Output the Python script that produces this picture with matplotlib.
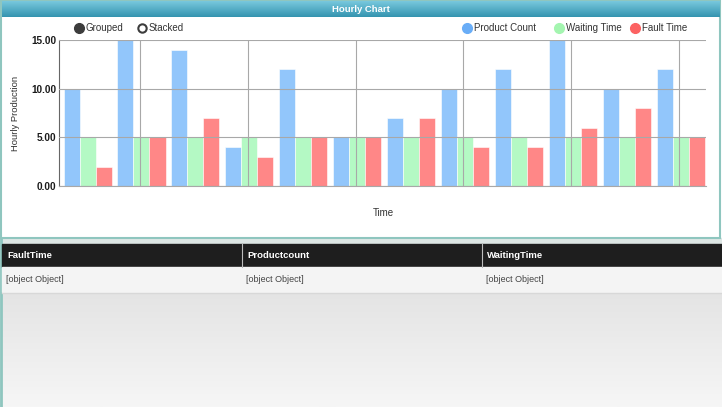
import numpy as np
import matplotlib.pyplot as plt

plt.rcParams['font.family'] = ['Liberation Sans', 'DejaVu Sans']

# data
hours = [0, 1, 2, 3, 4, 5, 6, 7, 8, 9, 10, 11]
product_count = [10, 15, 14, 4, 12, 5, 7, 10, 12, 15, 10, 12]
waiting_time = [5, 5, 5, 5, 5, 5, 5, 5, 5, 5, 5, 5]
fault_time = [2, 5, 7, 3, 5, 5, 7, 4, 4, 6, 8, 5]
series_names = ['Product Count', 'Waiting Time', 'Fault Time']
bar_colors = ['#92c6fb', '#b4f9c4', '#ff8787']
dot_colors = ['#69adf7', '#a4f5b0', '#fc6262']
y_ticks = [0, 5, 10, 15]
table_cols = ['FaultTime', 'Productcount', 'WaitingTime']
table_row = ['[object Object]', '[object Object]', '[object Object]']

W, H = 722, 407
fig = plt.figure(figsize=(W / 100, H / 100), dpi=100)

# background drawn in pixel coordinates
bg = fig.add_axes([0, 0, 1, 1])
bg.set_xlim(0, W)
bg.set_ylim(H, 0)
bg.axis('off')

# lower panel gradient + separator strip
bg.add_patch(plt.Rectangle((0, 238), W, H - 238, color='#dde6e4', zorder=0))
grad = np.linspace(0, 1, 100)[:, None]
lo = np.array([228, 228, 228]) / 255
hi = np.array([246, 246, 246]) / 255
img = lo + (hi - lo) * grad[:, :, None]
bg.imshow(img, extent=[2, W, H, 292], aspect='auto', zorder=1)
bg.plot([1, 1], [238, H], color='#8fc6bf', lw=2, zorder=2)

# table header and row
bg.add_patch(plt.Rectangle((2, 244), W - 2, 23, color='#1e1e1e', zorder=2))
bg.add_patch(plt.Rectangle((2, 267), W - 2, 25, color='#f4f4f4', zorder=2))
bg.plot([2, W], [292.5, 292.5], color='#d8d8d8', lw=1, zorder=3)
col_x = [2, 242, 482]
for i, name in enumerate(table_cols):
    if i > 0:
        bg.plot([col_x[i], col_x[i]], [244, 267], color='#bdbdbd', lw=0.8, zorder=3)
    bg.text(col_x[i] + 5, 256, name, color='white', fontsize=6.8,
            fontweight='bold', va='center', ha='left', zorder=4)
    bg.text(col_x[i] + 4, 280, table_row[i], color='#444444', fontsize=6.5,
            va='center', ha='left', zorder=4)

# chart panel
bg.add_patch(plt.Rectangle((1, 1), W - 3, 237, facecolor='white',
                           edgecolor='#8fc6bf', lw=1.5, zorder=2))
top = np.array([120, 200, 222]) / 255
bot = np.array([52, 148, 175]) / 255
tgrad = top + (bot - top) * grad[:, :, None]
bg.imshow(tgrad, extent=[2, W - 2, 17, 1], aspect='auto', zorder=3)
bg.text(W / 2, 9, 'Hourly Chart', color='white', fontsize=6.8,
        fontweight='bold', ha='center', va='center', zorder=4)

# mode legend
bg.plot(79, 28, 'o', ms=7, color='#3c3c3c', zorder=4)
bg.text(86, 28, 'Grouped', fontsize=7, color='#333333', va='center', zorder=4)
bg.plot(142, 28, 'o', ms=6, mfc='white', mec='#3c3c3c', mew=1.5, zorder=4)
bg.text(149, 28, 'Stacked', fontsize=7, color='#333333', va='center', zorder=4)

# series legend
leg_x = [467, 559, 635]
for lx, name, c in zip(leg_x, series_names, dot_colors):
    bg.plot(lx, 28, 'o', ms=7, color=c, zorder=4)
    bg.text(lx + 7, 28, name, fontsize=7, color='#333333', va='center', zorder=4)

bg.text(16, 113, 'Hourly Production', rotation=90, fontsize=6.8,
        color='#333333', ha='center', va='center', zorder=4)
bg.text(383, 213, 'Time', fontsize=7, color='#333333',
        ha='center', va='center', zorder=4)

# the bar chart itself
ax = fig.add_axes([59 / W, (H - 186) / H, 647 / W, 146 / H])
ax.patch.set_alpha(0)
x = np.array(hours)
bw = 0.297
for k, vals in enumerate([product_count, waiting_time, fault_time]):
    ax.bar(x + (k - 1) * bw + 0.03, vals, width=bw, color=bar_colors[k],
           edgecolor='white', linewidth=0.4, zorder=2)

ax.set_xlim(-0.5, 11.5)
ax.set_ylim(0, 15)
ax.set_yticks(y_ticks)
ax.set_yticklabels(['%.2f' % v for v in y_ticks], fontsize=7.2,
                   color='#1a1a1a', fontweight='bold')
ax.set_xticks(hours[1::2])
ax.set_xticklabels([])
ax.tick_params(length=0, pad=2)
ax.grid(True, color='#a8a8a8', lw=0.8, zorder=3)
ax.set_axisbelow(False)
for s in ['top', 'right']:
    ax.spines[s].set_visible(False)
ax.spines['bottom'].set_color('#a8a8a8')
ax.spines['left'].set_color('#666666')

fig.savefig('out.png', dpi=100)
